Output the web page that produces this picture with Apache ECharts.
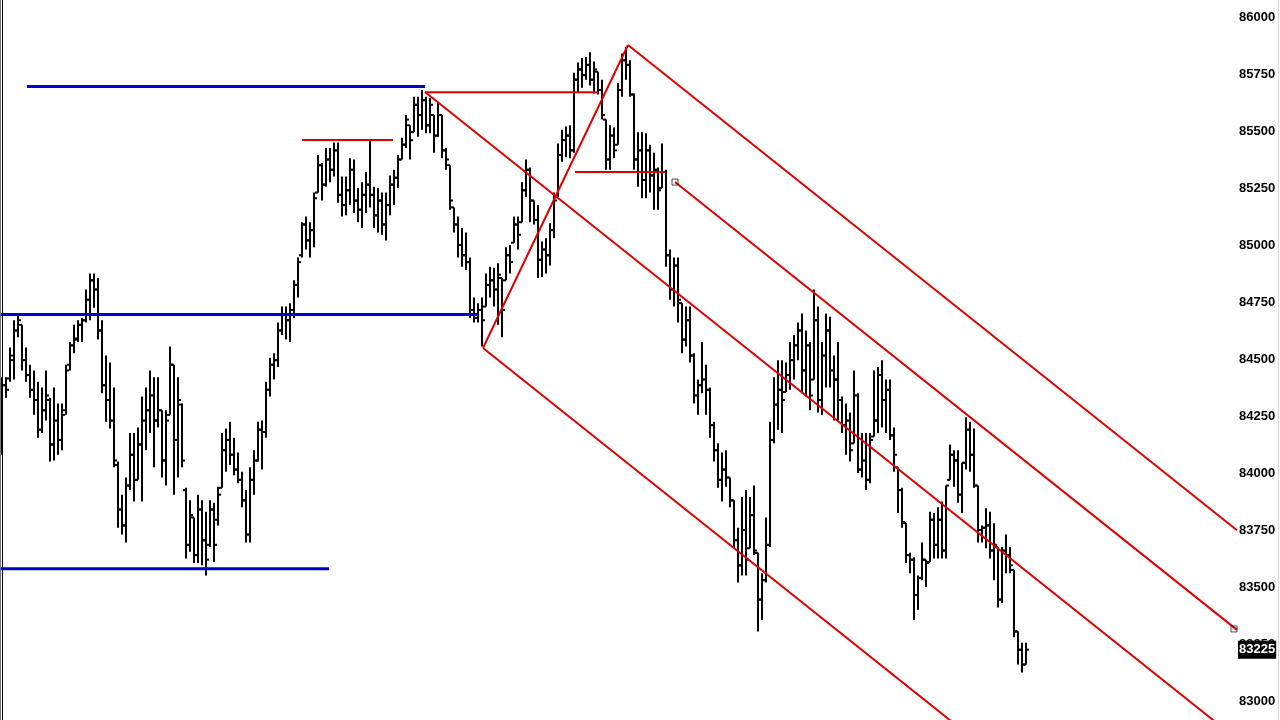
<!DOCTYPE html>
<html>
<head>
<meta charset="utf-8">
<script src="https://cdn.jsdelivr.net/npm/echarts@6/dist/echarts.min.js"></script>
<style>
html,body{margin:0;padding:0;background:#fff;}
#chart{width:1280px;height:720px;}
</style>
</head>
<body>
<div id="chart"></div>
<script>
// ---- OHLC bars (bar index 0..256), prices ----
const opens = [
84145,84385,84415,84495,84625,84650,84495,84430,84365,84320,
84190,84275,84320,84125,84230,84145,84275,84475,84560,84590,
84650,84670,84760,84845,84805,84625,84385,84320,84230,84035,
83840,83770,83945,84080,83970,84125,84230,84275,84340,84230,
84275,84055,84255,84475,84145,84300,83925,83685,83805,83640,
83840,83705,83685,83840,83795,83935,84100,84145,84080,84015,
83970,83880,83730,83970,84055,84190,84180,84365,84475,84495,
84625,84695,84670,84715,84825,84955,85090,85020,85065,85230,
85350,85265,85375,85330,85415,85220,85175,85240,85330,85195,
85155,85220,85265,85220,85130,85195,85090,85175,85265,85295,
85375,85440,85525,85495,85615,85570,85635,85525,85570,85480,
85570,85415,85350,85165,85090,85000,84955,84925,84715,84680,
84715,84730,84825,84845,84805,84855,84845,84955,85010,85090,
85100,85240,85330,85195,85110,84935,84980,84955,85065,85210,
85395,85460,85480,85415,85725,85770,85745,85790,85725,85760,
85680,85550,85375,85480,85440,85680,85810,85790,85660,85375,
85415,85285,85415,85305,85330,85250,85320,84955,84805,84910,
84745,84585,84670,84515,84340,84385,84410,84365,84210,84100,
83970,84015,83980,83880,83705,83595,83750,83670,83815,83650,
83445,83530,83685,84145,84300,84365,84355,84430,84495,84560,
84625,84450,84560,84410,84670,84320,84515,84625,84450,84410,
84320,84210,84230,84130,84340,84015,84055,83970,84160,84230,
84430,84320,84365,84165,84025,83925,83780,83640,83620,83465,
83540,83620,83610,83795,83685,83795,83660,83970,84080,84055,
83905,84045,84190,84080,83945,83750,83760,83770,83660,83675,
83445,83660,83640,83575,83305,83225,83160
];
const highs = [
84420,84420,84550,84670,84700,84650,84550,84475,84450,84400,
84375,84450,84330,84375,84305,84305,84475,84575,84650,84670,
84680,84805,84875,84875,84855,84670,84515,84485,84375,84050,
83905,83980,84175,84175,84200,84335,84375,84450,84420,84420,
84275,84275,84555,84475,84420,84305,83935,83880,83805,83905,
83880,83830,83880,83870,83940,84175,84195,84225,84155,84090,
84005,83925,84025,84100,84225,84230,84400,84505,84525,84660,
84730,84730,84745,84845,84945,85100,85125,85100,85230,85395,
85360,85425,85425,85450,85450,85300,85300,85380,85375,85250,
85275,85320,85460,85255,85250,85230,85230,85305,85330,85395,
85470,85570,85525,85650,85650,85680,85650,85645,85570,85625,
85570,85425,85350,85165,85125,85075,85055,84945,84770,84745,
84770,84875,84905,84900,84920,84855,84990,85000,85125,85125,
85275,85375,85340,85195,85175,85015,85030,85095,85230,85445,
85505,85520,85525,85755,85800,85820,85825,85845,85805,85760,
85725,85550,85525,85515,85710,85840,85870,85810,85665,85495,
85495,85490,85440,85405,85340,85445,85330,84980,84945,84945,
84745,84730,84730,84525,84410,84575,84475,84375,84225,84130,
84090,84100,83980,83880,83760,83895,83925,83895,83945,83650,
83560,83805,84225,84420,84495,84495,84485,84575,84605,84660,
84700,84625,84575,84805,84730,84575,84700,84685,84515,84575,
84335,84305,84265,84450,84350,84175,84175,84175,84450,84465,
84495,84410,84410,84200,84025,83935,83780,83650,83630,83550,
83695,83620,83830,83825,83850,83875,83945,84125,84100,84100,
84045,84245,84225,84195,83945,83770,83845,83830,83780,83675,
83675,83730,83675,83575,83305,83255,83255
];
const lows = [
84080,84330,84400,84410,84595,84450,84400,84330,84255,84155,
84175,84230,84050,84055,84080,84100,84255,84450,84525,84575,
84575,84660,84670,84725,84585,84350,84225,84195,84025,83760,
83730,83695,83925,83875,83970,83875,84100,84175,84025,84200,
83980,83945,84255,83905,83980,84025,83625,83655,83605,83605,
83595,83550,83675,83610,83770,83935,84005,84035,83990,83955,
83850,83695,83695,83905,84050,84015,84155,84335,84410,84465,
84605,84585,84575,84680,84770,84945,84980,84945,84990,85230,
85195,85255,85275,85300,85185,85125,85130,85175,85140,85100,
85075,85140,85165,85075,85055,85045,85020,85130,85175,85250,
85375,85425,85375,85495,85475,85505,85490,85490,85405,85475,
85380,85330,85155,85055,84945,84905,84890,84680,84660,84660,
84555,84730,84770,84730,84650,84595,84845,84875,85010,84980,
85100,85210,85100,85090,84855,84860,84875,84910,85030,85210,
85365,85385,85380,85405,85670,85690,85725,85700,85665,85660,
85550,85330,85330,85380,85440,85650,85725,85650,85330,85255,
85205,85205,85230,85155,85155,85250,84905,84760,84730,84660,
84525,84555,84485,84305,84255,84350,84255,84155,84050,83935,
83875,83940,83850,83670,83520,83550,83550,83670,83640,83305,
83355,83520,83675,84130,84190,84175,84355,84365,84410,84495,
84350,84335,84275,84410,84265,84255,84375,84375,84230,84230,
84175,84080,84050,84130,84000,83980,83925,83955,84160,84175,
84200,84175,84145,84005,83825,83760,83605,83560,83355,83400,
83530,83500,83610,83625,83625,83625,83625,83970,83940,83870,
83825,84015,84005,83935,83695,83695,83670,83625,83530,83410,
83430,83560,83560,83280,83160,83125,83160
];
const closes = [
84385,84365,84515,84625,84670,84495,84430,84365,84320,84190,
84275,84340,84125,84230,84145,84255,84450,84560,84585,84650,
84670,84760,84845,84805,84625,84385,84320,84230,84055,83840,
83770,83945,84080,83970,84125,84230,84275,84340,84230,84275,
84055,84230,84475,84145,84320,84055,83685,83815,83640,83840,
83705,83620,83840,83685,83905,84100,84145,84080,84015,83970,
83880,83730,83970,84055,84190,84180,84365,84475,84495,84625,
84695,84670,84715,84825,84925,85090,85020,85065,85205,85350,
85265,85375,85330,85415,85220,85175,85240,85330,85195,85155,
85220,85265,85220,85130,85195,85090,85175,85265,85295,85375,
85440,85550,85460,85615,85570,85635,85525,85615,85480,85570,
85415,85375,85195,85090,85000,84955,84925,84715,84680,84715,
84670,84825,84845,84805,84870,84715,84955,84925,85090,85045,
85240,85330,85195,85110,84935,84980,84955,85065,85195,85395,
85460,85480,85415,85725,85770,85745,85790,85725,85770,85680,
85570,85375,85480,85415,85680,85810,85790,85660,85375,85415,
85285,85415,85305,85330,85240,85320,84955,84805,84910,84760,
84585,84670,84515,84340,84385,84410,84365,84210,84100,83970,
84015,83980,83880,83705,83595,83750,83620,83815,83660,83445,
83530,83685,84145,84300,84365,84320,84430,84495,84560,84625,
84450,84560,84340,84670,84320,84515,84625,84450,84410,84320,
84210,84230,84100,84340,84015,84055,83970,84145,84230,84430,
84320,84365,84165,84080,83925,83785,83640,83620,83465,83540,
83620,83605,83795,83685,83795,83660,83945,84080,84055,83905,
84045,84190,84080,83945,83750,83760,83770,83660,83685,83445,
83660,83640,83595,83305,83225,83160,83225
];

// ---- price axis ----
const priceMin = 82750;
const priceMax = 86250;
const priceStep = 250;
const lastPrice = 83225;

// ---- drawn lines: [barIndex, price] endpoints ----
const blueLines = [
  [[6.25, 85695], [105.75, 85695]],
  [[-0.5, 84695], [119, 84695]],
  [[-0.5, 83580], [81.75, 83580]]
];
const redHorizontals = [
  [[75, 85460], [97.75, 85460]],
  [[105.75, 85670], [149, 85670]],
  [[143.25, 85320], [165.75, 85320]]
];
const redChannel = [
  [[120.25, 84548], [156.5, 85877]],
  [[156.5, 85877], [308.75, 83749]],
  [[168.25, 85276], [308.75, 83312]],
  [[105.75, 85671], [308.75, 82833]],
  [[120.25, 84548], [245, 82804]]
];
const handles = [[168.25, 85276], [308, 83316]];

const barRows = opens.map((o, i) => [i, o, highs[i], lows[i], closes[i]]);

function renderBar(params, api) {
  const i = api.value(0);
  const pO = api.coord([i, api.value(1)]);
  const pH = api.coord([i, api.value(2)]);
  const pL = api.coord([i, api.value(3)]);
  const pC = api.coord([i, api.value(4)]);
  const x = pH[0];
  const st = { stroke: '#000', lineWidth: 2 };
  return {
    type: 'group',
    children: [
      { type: 'line', shape: { x1: x, y1: pH[1], x2: x, y2: pL[1] }, style: st },
      { type: 'line', shape: { x1: x - 3, y1: pO[1], x2: x, y2: pO[1] }, style: st },
      { type: 'line', shape: { x1: x, y1: pC[1], x2: x + 3, y2: pC[1] }, style: st }
    ]
  };
}

function lineSeries(pts, color, width, z) {
  return {
    type: 'line', data: pts, symbol: 'none', silent: true, z: z,
    lineStyle: { color: color, width: width }, animation: false
  };
}

const series = [
  {
    type: 'custom', renderItem: renderBar, data: barRows, z: 2,
    encode: { x: 0, y: [1, 2, 3, 4] }, animation: false, silent: true
  }
];
blueLines.forEach(p => series.push(lineSeries(p, '#0000c8', 3, 3)));
redHorizontals.forEach(p => series.push(lineSeries(p, '#e00000', 2, 4)));
redChannel.forEach(p => series.push(lineSeries(p, '#e00000', 2, 4)));
series.push({
  type: 'scatter', data: handles, symbol: 'rect', symbolSize: 6, z: 5, silent: true,
  itemStyle: { color: 'rgba(255,255,255,0)', borderColor: '#222', borderWidth: 1 }
});
// current price marker
series.push({
  type: 'line', data: [[0, lastPrice], [308.75, lastPrice]], symbol: 'none', z: 8, silent: true,
  lineStyle: { color: 'rgba(0,0,0,0)', width: 1 },
  endLabel: {
    show: true, distance: 1,
    formatter: String(lastPrice),
    backgroundColor: '#000', color: '#fff',
    fontFamily: 'Liberation Sans, Arial, sans-serif', fontWeight: 'bold', fontSize: 13,
    padding: [3, 1, 2, 1]
  }
});

const chart = echarts.init(document.getElementById('chart'), null, { renderer: 'canvas' });
chart.setOption({
  animation: false,
  backgroundColor: '#ffffff',
  grid: { left: 0, right: 43, top: -40, bottom: -38, containLabel: false, outerBoundsMode: 'none' },
  xAxis: {
    type: 'value', min: -0.5, max: 308.75,
    show: false, splitLine: { show: false }
  },
  yAxis: {
    type: 'value', position: 'right', min: priceMin, max: priceMax, interval: priceStep,
    axisLine: { show: true, lineStyle: { color: '#000', width: 1 } },
    axisTick: { show: false },
    splitLine: { show: false },
    axisLabel: {
      color: '#000', fontWeight: 'bold', fontSize: 13, margin: 2,
      fontFamily: 'Liberation Sans, Arial, sans-serif',
      formatter: v => String(v)
    }
  },
  graphic: [
    { type: 'line', shape: { x1: 0.5, y1: 0, x2: 0.5, y2: 720 }, style: { stroke: '#777', lineWidth: 1 }, z: 10 },
    { type: 'line', shape: { x1: 1278.5, y1: 0, x2: 1278.5, y2: 720 }, style: { stroke: '#d8d8d8', lineWidth: 1 }, z: 10 }
  ],
  series: series
});
</script>
</body>
</html>
